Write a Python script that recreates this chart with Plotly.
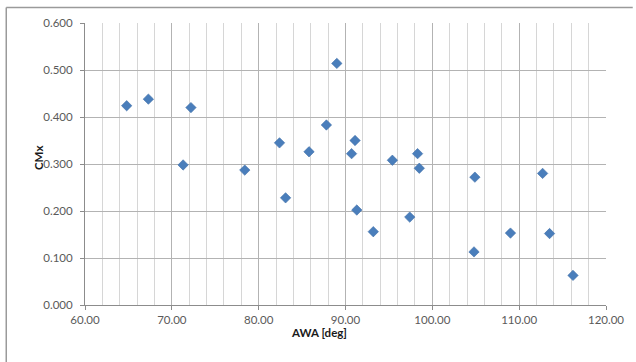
import plotly.graph_objects as go

# Apparent wind angle [deg] and yaw moment coefficient CMx
awa = [64.8, 67.3, 72.2, 71.3, 78.4, 82.4, 83.1, 85.8, 87.8, 89.0,
       90.7, 91.1, 91.3, 93.2, 95.4, 97.4, 98.3, 98.5, 104.9, 104.8,
       109.0, 112.7, 113.5, 116.2]
cmx = [0.424, 0.438, 0.420, 0.298, 0.287, 0.345, 0.228, 0.326, 0.383, 0.514,
       0.322, 0.350, 0.202, 0.156, 0.308, 0.187, 0.322, 0.291, 0.272, 0.113,
       0.153, 0.280, 0.152, 0.063]

x_ticks = [60, 70, 80, 90, 100, 110, 120]
y_ticks = [0.0, 0.1, 0.2, 0.3, 0.4, 0.5, 0.6]

W, H = 636, 362
L, R, T, B = 85, 25, 23, 57
pw, ph = W - L - R, H - T - B

tick_font = dict(family="Lato, 'Open Sans', sans-serif", size=11.5, color="#5a5a5a")
title_font = dict(family="Lato, 'Open Sans', sans-serif", size=11.5, color="#1a1a1a")

fig = go.Figure(
    go.Scatter(
        x=awa, y=cmx, mode="markers",
        marker=dict(symbol="diamond", size=8, color="#4a7ebb",
                    line=dict(width=0.6, color="#3f6fa8")),
        hoverinfo="x+y",
    )
)

fig.update_xaxes(
    range=[60, 120], tickvals=x_ticks, ticktext=[f"{v:.2f}" for v in x_ticks],
    showgrid=True, gridcolor="#b3b3b3", gridwidth=1,
    minor=dict(dtick=2, tick0=60, showgrid=True, gridcolor="#d6d6d6", gridwidth=1),
    showline=True, linecolor="#8c8c8c", linewidth=1,
    ticks="outside", ticklen=4, tickcolor="#8c8c8c",
    tickfont=tick_font, zeroline=False, fixedrange=True,
)
fig.update_yaxes(
    range=[0, 0.6], tickvals=y_ticks, ticktext=[f"{v:.3f}" for v in y_ticks],
    showgrid=True, gridcolor="#b3b3b3", gridwidth=1,
    showline=True, linecolor="#8c8c8c", linewidth=1,
    ticks="outside", ticklen=4, tickcolor="#8c8c8c",
    ticklabelstandoff=5,
    tickfont=tick_font, zeroline=False, fixedrange=True,
)

def px_x(x):
    return (x - L) / pw

def px_y(y):
    return 1 - (y - T) / ph

# chart frame (top and left edges)
frame = dict(color="#9a9a9a", width=1.5)
fig.add_shape(type="line", xref="paper", yref="paper",
              x0=px_x(5.5), x1=px_x(W + 2), y0=px_y(7.5), y1=px_y(7.5), line=frame)
fig.add_shape(type="line", xref="paper", yref="paper",
              x0=px_x(5.5), x1=px_x(5.5), y0=px_y(7.5), y1=px_y(H + 2), line=frame)

fig.add_annotation(text="<b>AWA [deg]</b>", xref="paper", yref="paper",
                   x=px_x(321), y=px_y(341), showarrow=False, font=title_font)
fig.add_annotation(text="<b>CMx</b>", xref="paper", yref="paper",
                   x=px_x(29), y=px_y(158), showarrow=False, textangle=-90,
                   font=title_font)

fig.update_layout(
    width=W, height=H,
    margin=dict(l=L, r=R, t=T, b=B),
    paper_bgcolor="white", plot_bgcolor="white",
    showlegend=False,
)

fig.write_html("out.html")
